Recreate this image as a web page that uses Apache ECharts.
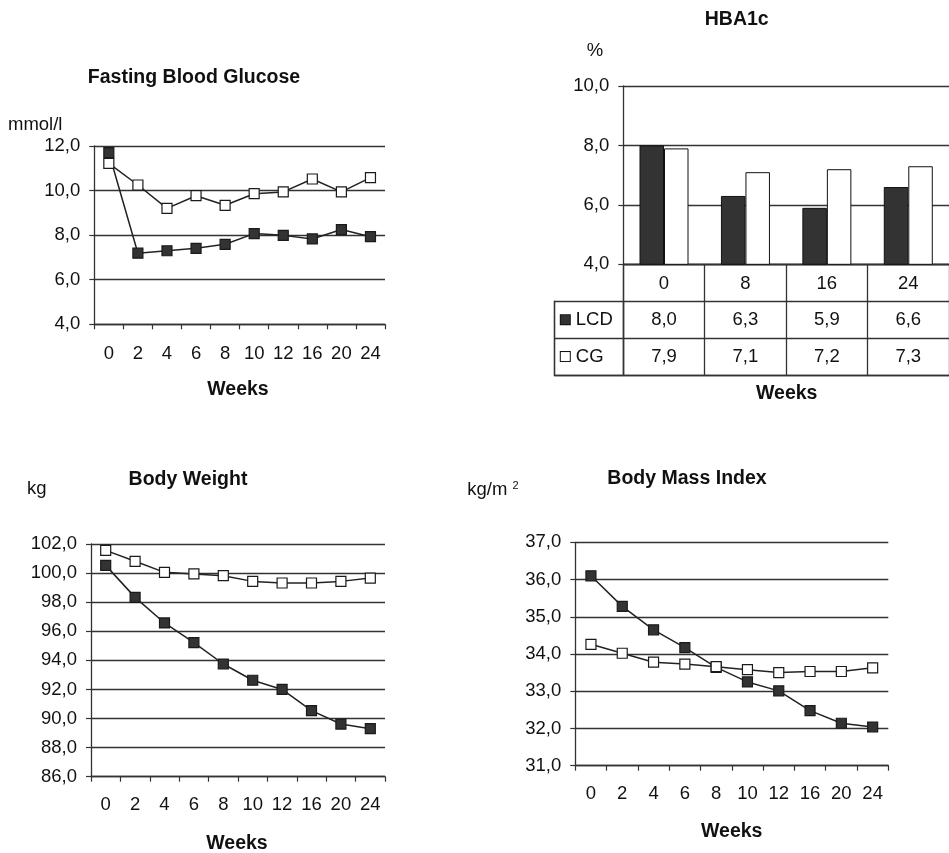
<!DOCTYPE html>
<html>
<head>
<meta charset="utf-8">
<script src="https://cdn.jsdelivr.net/npm/echarts@6/dist/echarts.min.js"></script>
<style>
html,body{margin:0;padding:0;background:#fff;}
#c{width:949px;height:853px;}
</style>
</head>
<body>
<div id="c"></div>
<script>
// ---------- data ----------
const weeks = ['0','2','4','6','8','10','12','16','20','24'];
const fbgLCD = [11.70, 7.19, 7.30, 7.41, 7.59, 8.07, 7.99, 7.83, 8.25, 7.93];
const fbgCG  = [11.22, 10.25, 9.20, 9.77, 9.34, 9.86, 9.94, 10.52, 9.94, 10.58];
const hbaWeeks = ['0','8','16','24'];
const hbaLCD = [8.0, 6.3, 5.9, 6.6];
const hbaCG  = [7.9, 7.1, 7.2, 7.3];
const bwLCD = [100.53, 98.33, 96.57, 95.22, 93.75, 92.63, 92.0, 90.54, 89.62, 89.3];
const bwCG  = [101.56, 100.81, 100.05, 99.94, 99.82, 99.43, 99.32, 99.32, 99.43, 99.66];
const bmiLCD = [36.10, 35.28, 34.65, 34.17, 33.64, 33.25, 33.01, 32.48, 32.14, 32.04];
const bmiCG  = [34.26, 34.02, 33.78, 33.73, 33.66, 33.58, 33.50, 33.53, 33.53, 33.63];
const seriesNames = ['LCD', 'CG'];
const tableRows = ['hdr', 'LCD', 'CG'];

// ---------- styles ----------
const FONT = "'Liberation Sans', Arial, Helvetica, sans-serif";
const TXT = '#111';
const LINE = '#333';
const DARK = '#333';
const FS = 18.5;
const FSB = 19.5;
const fmt = v => v.toFixed(1).replace('.', ',');

const axisLine = { show: true, lineStyle: { color: LINE, width: 1.3 } };
const split = { show: true, lineStyle: { color: LINE, width: 1.3 } };

function valueAxis(gi, min, max, interval) {
  return {
    type: 'value', gridIndex: gi, min: min, max: max, interval: interval,
    axisLine: axisLine,
    axisTick: { show: true, length: 5, lineStyle: { color: LINE, width: 1.2 } },
    axisLabel: { formatter: fmt, fontSize: FS, fontFamily: FONT, color: TXT, margin: 14 },
    splitLine: split
  };
}
function catAxis(gi, data, margin) {
  return {
    type: 'category', gridIndex: gi, data: data,
    axisLine: axisLine,
    axisTick: { show: true, length: 5, lineStyle: { color: LINE, width: 1.2 } },
    axisLabel: { fontSize: FS, fontFamily: FONT, color: TXT, margin: margin, interval: 0 },
    splitLine: { show: false }
  };
}
function lineSeries(xi, name, data, filled) {
  return {
    type: 'line', name: name, xAxisIndex: xi, yAxisIndex: xi, data: data,
    symbol: 'rect', symbolSize: 10, showAllSymbol: true,
    lineStyle: { color: '#222', width: 1.5 },
    itemStyle: { color: filled ? DARK : '#fff', borderColor: '#1a1a1a', borderWidth: 1.2 },
    emphasis: { disabled: true }, silent: true, animation: false, z: filled ? 3 : 4
  };
}

const grids = [
  { left: 94.3, top: 146, width: 290.7, height: 178.3 },   // 0 FBG
  { left: 623.3, top: 86, width: 329.2, height: 178.3 },   // 1 HBA1c
  { left: 623.3, top: 264.3, width: 329.2, height: 110.7 },// 2 table
  { left: 554.3, top: 301.2, width: 69, height: 73.8 },    // 3 table label column
  { left: 91, top: 544, width: 294, height: 232.7 },       // 4 BW
  { left: 575.3, top: 542.3, width: 313, height: 223.4 }   // 5 BMI
];

const hbaX = catAxis(1, hbaWeeks, 10);
hbaX.axisTick = { show: false };

const tableX = { type: 'category', gridIndex: 2, data: hbaWeeks,
  axisLine: axisLine, axisTick: { show: false }, axisLabel: { show: false }, splitLine: split };
const tableY = { type: 'category', gridIndex: 2, data: tableRows, inverse: true,
  axisLine: axisLine, axisTick: { show: false }, axisLabel: { show: false }, splitLine: split };

const labX = { type: 'category', gridIndex: 3, data: [''],
  axisLine: axisLine, axisTick: { show: false }, axisLabel: { show: false }, splitLine: split };
const labY = { type: 'category', gridIndex: 3, data: seriesNames, inverse: true,
  axisLine: axisLine, axisTick: { show: false }, splitLine: split,
  axisLabel: {
    inside: true, margin: 6.5,
    formatter: v => '{' + v + '|}{t|' + v + '}',
    rich: {
      LCD: { width: 9, height: 9, backgroundColor: DARK, borderColor: '#111', borderWidth: 1 },
      CG: { width: 9, height: 9, backgroundColor: '#fff', borderColor: '#111', borderWidth: 1 },
      t: { fontSize: FS, fontFamily: FONT, color: TXT, padding: [0, 0, 0, 6] }
    }
  }
};

const tableData = [];
[hbaLCD, hbaCG].forEach((arr, r) => {
  arr.forEach((v, i) => tableData.push([hbaWeeks[i], seriesNames[r], v]));
});

function txt(text, x, y, opts) {
  return {
    type: 'text', x: x, y: y, silent: true,
    style: Object.assign({ text: text, fontFamily: FONT, fontSize: FS, fill: TXT,
      align: 'center', verticalAlign: 'middle' }, opts || {})
  };
}
const bold = { fontWeight: 'bold', fontSize: FSB };

const option = {
  backgroundColor: '#fff',
  animation: false,
  grid: grids,
  xAxis: [
    catAxis(0, weeks, 20),
    hbaX,
    tableX,
    labX,
    catAxis(4, weeks, 19),
    catAxis(5, weeks, 19)
  ],
  yAxis: [
    valueAxis(0, 4, 12, 2),
    valueAxis(1, 4, 10, 2),
    tableY,
    labY,
    valueAxis(4, 86, 102, 2),
    valueAxis(5, 31, 37, 1)
  ],
  series: [
    lineSeries(0, 'LCD', fbgLCD, true),
    lineSeries(0, 'CG', fbgCG, false),
    { type: 'bar', name: 'LCD', xAxisIndex: 1, yAxisIndex: 1, data: hbaLCD,
      barWidth: 24.5, barGap: '0%', silent: true,
      itemStyle: { color: DARK, borderColor: '#111', borderWidth: 1 } },
    { type: 'bar', name: 'CG', xAxisIndex: 1, yAxisIndex: 1, data: hbaCG,
      barWidth: 24.5, barGap: '0%', silent: true,
      itemStyle: { color: '#fff', borderColor: '#111', borderWidth: 1 } },
    { type: 'scatter', xAxisIndex: 2, yAxisIndex: 2, data: tableData,
      symbol: 'circle', symbolSize: 1, itemStyle: { color: 'rgba(255,255,255,0)' }, silent: true,
      z: 5,
      label: { show: true, position: 'inside', formatter: p => fmt(p.value[2]),
        fontSize: FS, fontFamily: FONT, color: TXT, opacity: 1 } },
    lineSeries(4, 'LCD', bwLCD, true),
    lineSeries(4, 'CG', bwCG, false),
    lineSeries(5, 'LCD', bmiLCD, true),
    lineSeries(5, 'CG', bmiCG, false)
  ],
  graphic: [
    txt('Fasting Blood Glucose', 194, 78, bold),
    txt('mmol/l', 8, 125, { align: 'left' }),
    txt('Weeks', 238, 390, bold),
    txt('HBA1c', 736.7, 20, bold),
    txt('%', 595, 51),
    txt('Weeks', 786.7, 394, bold),
    txt('Body Weight', 188, 480, bold),
    txt('kg', 27, 489, { align: 'left' }),
    txt('Weeks', 237, 843.3, bold),
    txt('Body Mass Index', 687, 479, bold),
    txt('{a|kg/m }{s|2}', 467.3, 490, { align: 'left',
      rich: { a: { fontSize: FS, fontFamily: FONT, fill: TXT, color: TXT },
              s: { fontSize: 11, fontFamily: FONT, fill: TXT, color: TXT, verticalAlign: 'top', padding: [0, 0, 8, 0] } } }),
    txt('Weeks', 731.7, 831.7, bold)
  ]
};

const chart = echarts.init(document.getElementById('c'), null, { renderer: 'canvas' });
chart.setOption(option);
</script>
</body>
</html>
